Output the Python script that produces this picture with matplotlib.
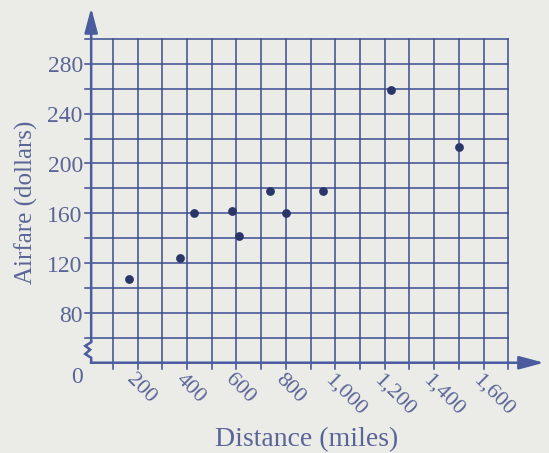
import matplotlib
matplotlib.use("Agg")
import matplotlib.pyplot as plt

# data
distance = [165, 370, 430, 580, 610, 735, 800, 950, 1225, 1500]
airfare = [107, 124, 160, 162, 142, 178, 160, 178, 259, 213]

x_ticks = [200, 400, 600, 800, 1000, 1200, 1400, 1600]
x_labels = ["200", "400", "600", "800", "1,000", "1,200", "1,400", "1,600"]
y_ticks = [80, 120, 160, 200, 240, 280]
y_labels = ["80", "120", "160", "200", "240", "280"]

# colours
bg = "#ebebe8"
grid_col = "#3c4c90"
axis_col = "#4a5c9e"
text_col = "#5a6596"
dot_col = "#2b3668"

plt.rcParams['font.family'] = ['Liberation Serif', 'DejaVu Serif']

fig = plt.figure(figsize=(5.49, 4.53), dpi=100, facecolor=bg)
ax = fig.add_axes([0, 0, 1, 1])
ax.set_facecolor(bg)
ax.set_xlim(-357, 1865)
ax.set_ylim(-32.5, 331.3)
ax.axis("off")

x0 = 12      # where the y axis sits
y0 = 40      # where the x axis sits (labelled 0, axis is broken)

# grid
for gx in range(100, 1701, 100):
    ax.plot([gx, gx], [y0 - 5, 300], color=grid_col, lw=1.1, zorder=1)
for gy in range(60, 301, 20):
    ax.plot([-12, 1700], [gy, gy], color=grid_col, lw=1.1, zorder=1)

# axes with arrows
ax.annotate('', xy=(x0, 325), xytext=(x0, 57),
            arrowprops=dict(arrowstyle='-|>,head_length=0.75,head_width=0.2',
                            color=axis_col, lw=1.8, shrinkA=0, shrinkB=0,
                            mutation_scale=20), zorder=3)
ax.annotate('', xy=(1845, y0), xytext=(x0 - 1, y0),
            arrowprops=dict(arrowstyle='-|>,head_length=0.75,head_width=0.2',
                            color=axis_col, lw=1.8, shrinkA=0, shrinkB=0,
                            mutation_scale=20), zorder=3)
# zigzag break on the y axis
ax.plot([x0, x0, -12, 8, -12, x0, x0],
        [57, 56.5, 53.5, 50.5, 47, 44, y0],
        color=axis_col, lw=1.8, solid_joinstyle='miter', zorder=3)

# points
ax.scatter(distance, airfare, s=40, color=dot_col, zorder=4, linewidths=0)

# tick labels
for t, lab in zip(y_ticks, y_labels):
    ax.text(-22, t - 2.5, lab, ha='right', va='center', fontsize=17, color=text_col)
ax.text(-22, 28.5, "0", ha='right', va='center', fontsize=17, color=text_col)

for t, lab in zip(x_ticks, x_labels):
    ax.text(t - 5, 34, lab, ha='left', va='top', rotation=-45,
            rotation_mode='anchor', fontsize=16, color=text_col)

ax.text(885, -22, "Distance (miles)", ha='center', va='center',
        fontsize=20, color=text_col)
ax.text(-252, 168.7, "Airfare (dollars)", ha='center', va='center',
        rotation=90, fontsize=18, color=text_col)

fig.savefig("out.png", dpi=100, facecolor=bg)
